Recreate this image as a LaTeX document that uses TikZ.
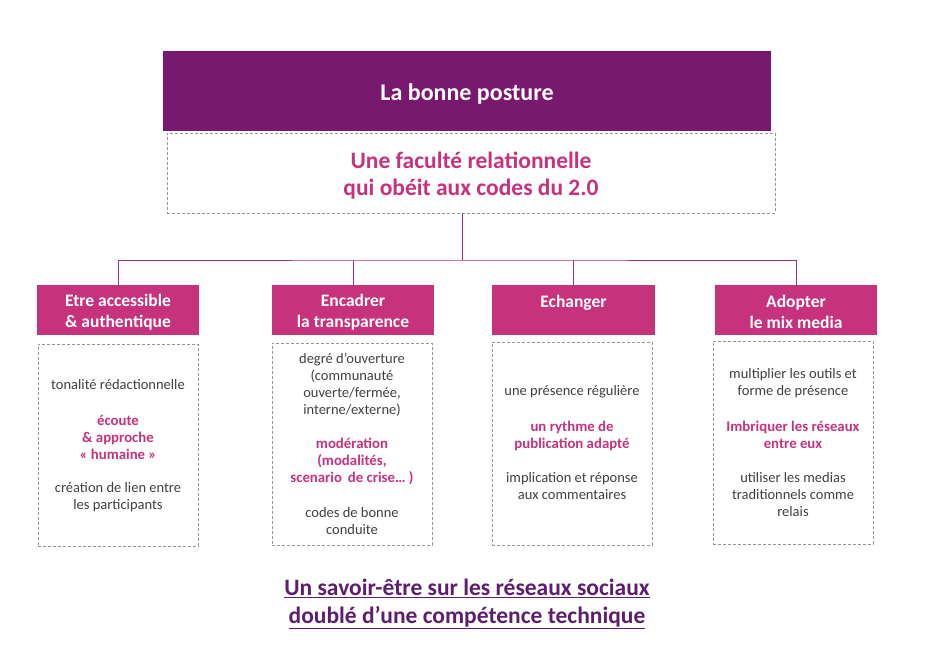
\documentclass[tikz,border=0pt]{standalone}
\usepackage{fontspec}
\setmainfont{Carlito}
\definecolor{topPurple}{RGB}{120,24,110}
\definecolor{mag}{RGB}{199,50,125}
\definecolor{connCol}{RGB}{165,45,125}
\definecolor{bodyGray}{RGB}{64,64,64}
\definecolor{bottomPurple}{RGB}{94,30,110}
\definecolor{dashGray}{RGB}{150,150,150}
\begin{document}
\begin{tikzpicture}[x=1pt,y=-1pt,
  topbox/.style={fill=topPurple,minimum width=608pt,minimum height=80pt,inner sep=0pt},
  dbox/.style={draw=dashGray,dash pattern=on 3pt off 2pt,line width=0.6pt,inner sep=0pt},
  catbox/.style={fill=mag,minimum width=162pt,minimum height=50pt,inner sep=0pt},
  cattxt/.style={text=white,inner sep=0pt,align=center,font=\fontsize{17.5}{21}\selectfont\bfseries},
  body/.style={align=center,text=bodyGray,inner sep=0pt,font=\fontsize{14.5}{17}\selectfont},
  hl/.style={align=center,text=mag,inner sep=0pt,font=\fontsize{14.8}{17}\selectfont\bfseries},
  conn/.style={draw=connCol,line width=0.8pt}
]
\useasboundingbox (0,0) rectangle (927,671);

\node[topbox] (top) at (467,91) {};
\node[text=white,inner sep=0pt,font=\fontsize{24}{28}\selectfont\bfseries] (toptxt) at (467,93.5) {La bonne posture};
\node[dbox,minimum width=608pt,minimum height=80pt] (sub) at (471,173) {};
\node[align=center,text=mag,inner sep=0pt,font=\fontsize{23.5}{27}\selectfont\bfseries] (subtxt) at (471,176) {Une faculté relationnelle\\qui obéit aux codes du 2.0};

\node[catbox] (cat1) at (118,310) {};
\node[catbox] (cat2) at (353,310) {};
\node[catbox,minimum width=163pt] (cat3) at (573.5,310) {};
\node[catbox] (cat4) at (796,310) {};
\node[cattxt] (ct1) at (118,312) {Etre accessible\\\& authentique};
\node[cattxt] (ct2) at (353,312) {Encadrer\\la transparence};
\node[cattxt] (ct3) at (573.5,312) {Echanger\\~};
\node[cattxt] (ct4) at (796,312) {Adopter\\le mix media};

\coordinate (bus) at (462,260);
\draw[conn] (sub.south -| bus) -- (bus);
\draw[conn] (cat1.north) |- (bus) -| (cat4.north);
\draw[conn] (cat2.north) -- (cat2.north |- bus);
\draw[conn] (cat3.north) -- (cat3.north |- bus);

\node[dbox,minimum width=160pt,minimum height=202pt] (c1) at (118,445) {};
\node[dbox,minimum width=160pt,minimum height=202pt] (c2) at (352,444) {};
\node[dbox,minimum width=160pt,minimum height=203pt] (c3) at (572,443.5) {};
\node[dbox,minimum width=160pt,minimum height=203pt] (c4) at (793,442.5) {};

% box 1
\node[body] (t11) at (118,385) {tonalité rédactionnelle};
\node[hl] (t12) at (118,437) {écoute\\\& approche\\« humaine »};
\node[body] (t13) at (118,497) {création de lien entre\\les participants};
% box 2
\node[body] (t21) at (352,384.5) {degré d’ouverture\\(communauté\\ouverte/fermée,\\interne/externe)};
\node[hl] (t22) at (352,461.5) {modération\\(modalités,\\scenario\, de crise… )};
\node[body] (t23) at (352,521.5) {codes de bonne\\conduite};
% box 3
\node[body] (t31) at (572,392) {une présence régulière};
\node[hl] (t32) at (572,435.5) {un rythme de\\publication adapté};
\node[body] (t33) at (572,486.5) {implication et réponse\\aux commentaires};
% box 4
\node[body] (t41) at (793,383) {multiplier les outils et\\forme de présence};
\node[hl] (t42) at (793,435) {Imbriquer les réseaux\\entre eux};
\node[body] (t43) at (793,495) {utiliser les medias\\traditionnels comme\\relais};

\node[align=center,text=bottomPurple,inner sep=0pt,font=\fontsize{23.5}{28}\selectfont\bfseries] (bottom) at (467,604) {\underline{Un savoir-être sur les réseaux sociaux}\\\underline{doublé d’une compétence technique}};
\end{tikzpicture}
\end{document}
